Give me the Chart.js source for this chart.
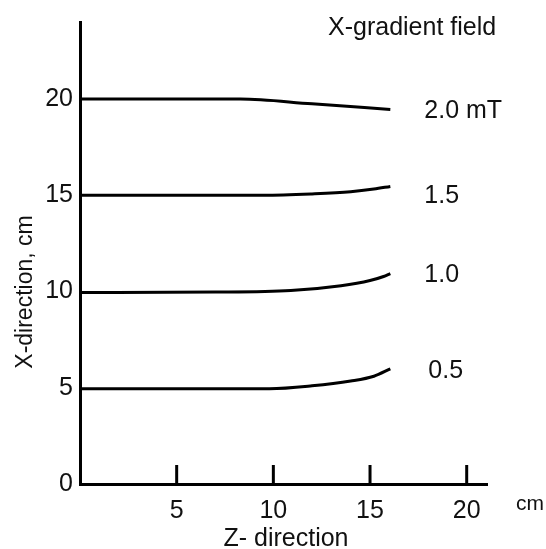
<!DOCTYPE html>
<html><head><meta charset="utf-8">
<script src="https://cdn.jsdelivr.net/npm/chart.js@4.4.0/dist/chart.umd.min.js"></script>
<style>html,body{margin:0;padding:0;background:#fff}canvas{display:block}</style>
</head><body>
<canvas id="c" width="546" height="549"></canvas>
<script>
// ---- data ----
const fieldLabels = ['2.0 mT', '1.5', '1.0', '0.5'];
const z20 = [0, 8.3, 12, 16.05];
const x20 = [20, 20, 19.75, 19.46];
const z15 = [0, 9.5, 12, 14, 15.2, 16.05];
const x15 = [15, 15, 15.07, 15.18, 15.32, 15.46];
const z10 = [0, 7, 10.9, 13.5, 15, 15.7, 16.05];
const x10 = [9.95, 9.97, 10.05, 10.3, 10.57, 10.78, 10.93];
const z05 = [0, 9.8, 12, 14, 15.2, 16.05];
const x05 = [4.95, 4.95, 5.1, 5.35, 5.6, 5.98];
const zTicks = [5, 10, 15, 20];
const xTicks = [0, 5, 10, 15, 20];

const FAMILY = "'Liberation Sans', Arial, Helvetica, sans-serif";
const series = [[z20, x20], [z15, x15], [z10, x10], [z05, x05]];
const labelDy = [0, 8, -1, 0];   // pixel nudges of the series labels

const datasets = series.map((s, i) => ({
  label: fieldLabels[i],
  data: s[0].map((z, j) => ({x: z, y: s[1][j]})),
  borderColor: '#000',
  borderWidth: 3,
  pointRadius: 0,
  fill: false,
  cubicInterpolationMode: 'monotone'
}));

const decor = {
  id: 'decor',
  afterDraw(chart) {
    const {ctx, scales: {x, y}} = chart;
    ctx.save();
    // inward x tick marks
    ctx.strokeStyle = '#000';
    ctx.lineWidth = 3;
    ctx.lineCap = 'butt';
    const base = y.getPixelForValue(0);
    zTicks.forEach(t => {
      const px = x.getPixelForValue(t);
      ctx.beginPath();
      ctx.moveTo(px, base);
      ctx.lineTo(px, base - 19);
      ctx.stroke();
    });
    ctx.fillStyle = '#111';
    ctx.textBaseline = 'alphabetic';
    // series labels
    ctx.font = '25px ' + FAMILY;
    ctx.textAlign = 'left';
    datasets.forEach((d, i) => {
      const last = d.data[d.data.length - 1];
      const py = y.getPixelForValue(last.y);
      ctx.fillText(fieldLabels[i], x.getPixelForValue(last.x) + 34 + (i === 3 ? 4 : 0), py + 9 + labelDy[i]);
    });
    // title
    ctx.font = '25px ' + FAMILY;
    ctx.fillText('X-gradient field', 328, 35);
    // unit
    ctx.font = '21px ' + FAMILY;
    ctx.fillText('cm', 516, 510);
    // x axis title
    ctx.font = '25px ' + FAMILY;
    ctx.textAlign = 'center';
    ctx.fillText('Z- direction', 286, 546);
    // y axis title
    ctx.save();
    ctx.translate(32, 292);
    ctx.rotate(-Math.PI / 2);
    ctx.font = '23px ' + FAMILY;
    ctx.textAlign = 'center';
    ctx.fillText('X-direction, cm', 0, 0);
    ctx.restore();
    ctx.restore();
  }
};

new Chart(document.getElementById('c'), {
  type: 'line',
  data: {datasets},
  plugins: [decor],
  options: {
    responsive: false,
    animation: false,
    devicePixelRatio: 1,
    layout: {padding: {top: 21, right: 59, left: 0, bottom: 0}},
    plugins: {legend: {display: false}, tooltip: {enabled: false}},
    scales: {
      x: {
        type: 'linear', min: 0, max: 21.05,
        grid: {display: true, drawOnChartArea: false, drawTicks: false},
        border: {display: true, width: 3, color: '#000'},
        afterBuildTicks(s) { s.ticks = zTicks.map(v => ({value: v})); },
        ticks: {color: '#111', font: {size: 25, family: FAMILY}, padding: 12, maxRotation: 0, autoSkip: false, includeBounds: false},
        afterFit(s) { s.height = 65; }
      },
      y: {
        type: 'linear', min: 0, max: 24,
        grid: {display: true, drawOnChartArea: false, drawTicks: false},
        border: {display: true, width: 3, color: '#000'},
        afterBuildTicks(s) { s.ticks = xTicks.map(v => ({value: v})); },
        ticks: {color: '#111', font: {size: 25, family: FAMILY}, padding: 7, includeBounds: false},
        afterFit(s) { s.width = 80; }
      }
    }
  }
});
</script>
</body></html>
